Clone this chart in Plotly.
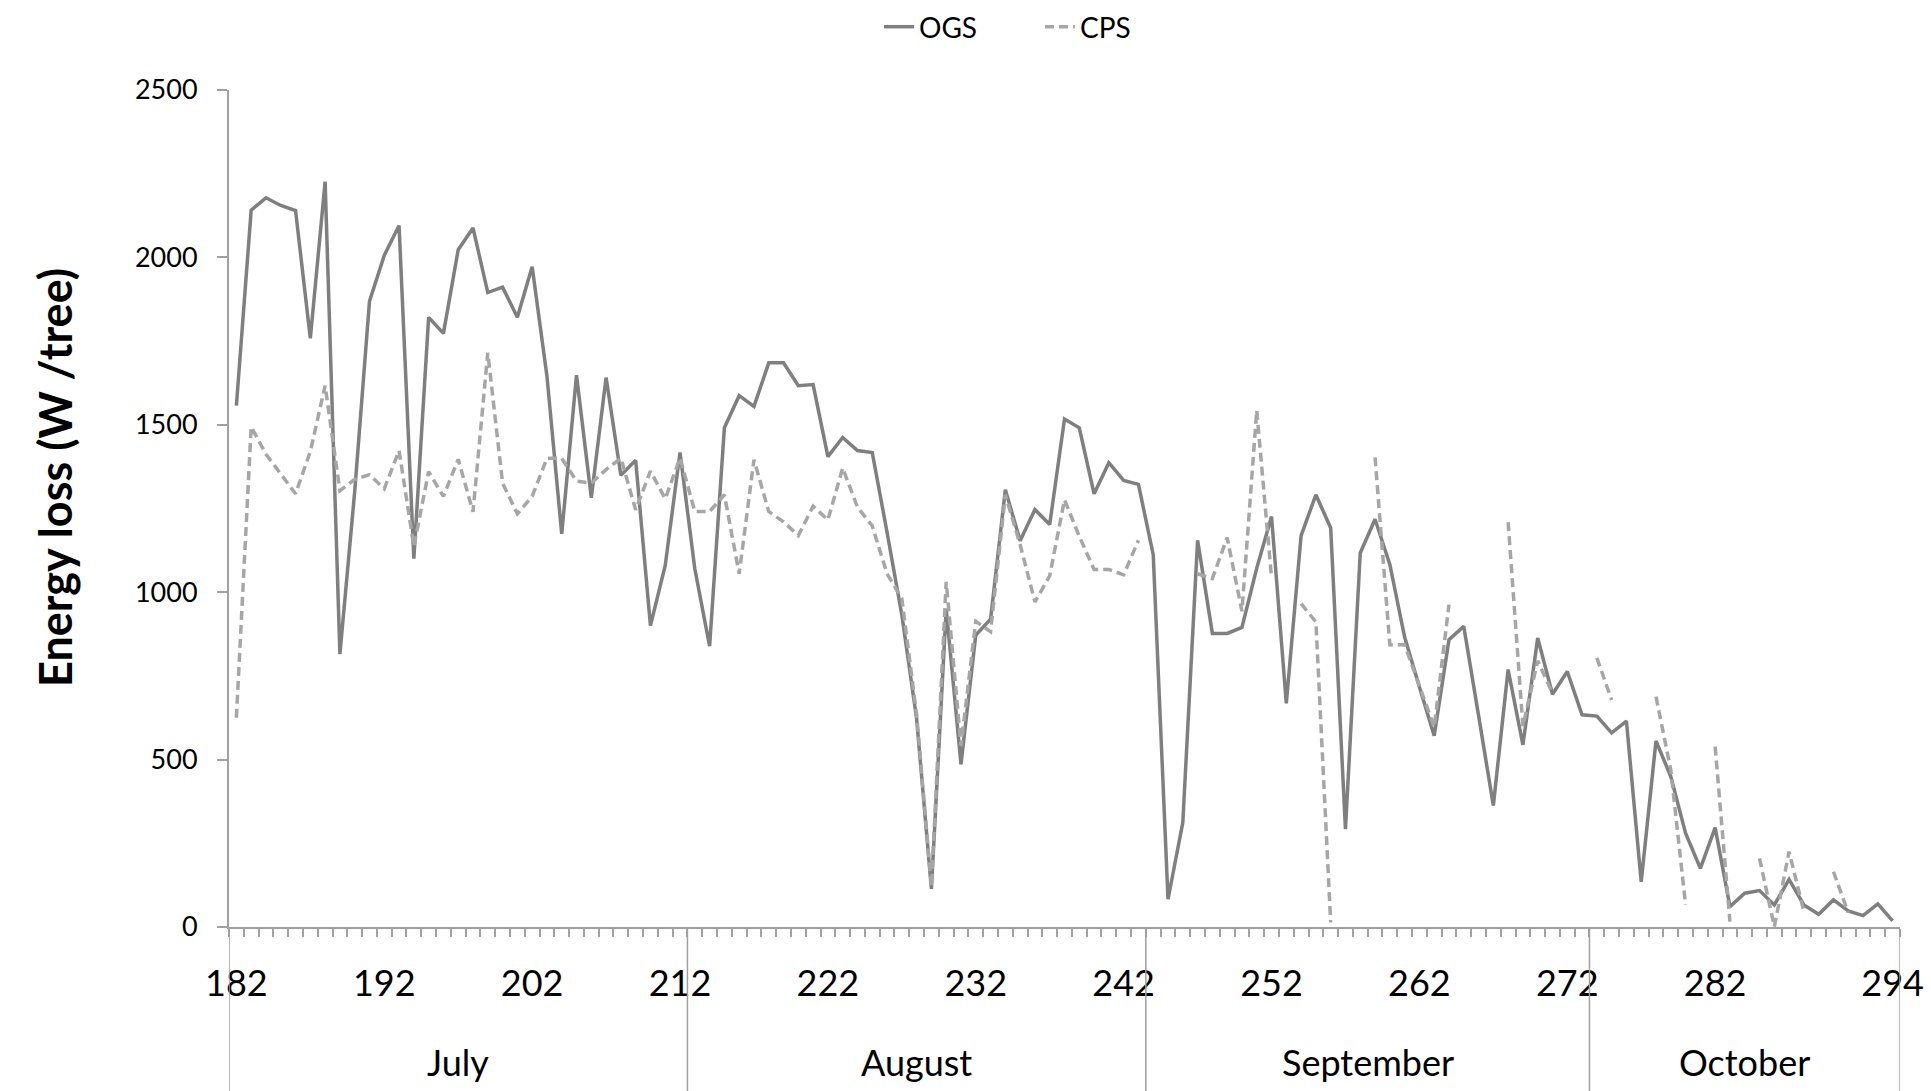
import plotly.graph_objects as go

days = list(range(182, 295))

ogs = [1557, 2141, 2178, 2155, 2140, 1758, 2226, 815, 1300, 1869,
       2006, 2095, 1100, 1821, 1773, 2023, 2088, 1895, 1911, 1821,
       1972, 1646, 1174, 1648, 1282, 1641, 1349, 1394, 900, 1080,
       1417, 1070, 839, 1491, 1587, 1555, 1685, 1685, 1617, 1620,
       1405, 1462, 1423, 1417, 1179, 932, 622, 114, 950, 486,
       872, 919, 1306, 1154, 1247, 1202, 1517, 1491, 1294, 1387,
       1334, 1322, 1112, 83, 312, 1155, 877, 877, 895, 1072,
       1226, 668, 1169, 1291, 1192, 292, 1117, 1218, 1083, 866,
       717, 571, 858, 898, 632, 363, 769, 544, 863, 695,
       763, 634, 630, 580, 615, 135, 556, 449, 280, 175,
       297, 61, 101, 109, 66, 142, 66, 38, 81, 48,
       34, 69, 18]

cps = [625, 1494, 1412, 1354, 1294, 1420, 1617, 1303, 1337, 1351,
       1309, 1423, 1137, 1360, 1286, 1397, 1240, 1715, 1326, 1234,
       1286, 1400, 1400, 1332, 1326, 1366, 1400, 1246, 1362, 1279,
       1401, 1241, 1241, 1291, 1055, 1396, 1241, 1210, 1169, 1257,
       1216, 1371, 1254, 1198, 1055, 981, 634, 121, 1031, 542,
       913, 882, 1291, 1142, 971, 1049, 1276, 1167, 1068, 1068,
       1052, 1155, None, None, None, 1055, 1041, 1163, 943, 1543,
       1043, None, 966, 911, 14, None, None, 1403, 843, 843,
       717, 597, 963, None, None, None, 1209, 600, 795, 698,
       None, None, 804, 678, None, None, 688, 469, 66, None,
       539, 16, None, 205, 1, 225, 46, None, 165, 43,
       None, None, None]

tick_days = [182, 192, 202, 212, 222, 232, 242, 252, 262, 272, 282, 294]
months = ["July", "August", "September", "October"]
month_first = [182, 213, 244, 274]
month_last = [212, 243, 273, 294]

W, H = 1931, 1091
L, R, T, B = 229, 31, 90, 164
plot_h = H - T - B
plot_w = W - L - R

fig = go.Figure()
fig.add_trace(go.Scatter(x=days, y=ogs, name="OGS", mode="lines",
                         line=dict(color="#7f7f7f", width=3.5)))
fig.add_trace(go.Scatter(x=days, y=cps, name="CPS", mode="lines",
                         connectgaps=False,
                         line=dict(color="#a6a6a6", width=3.5, dash="9px,5px")))

axis_col = "#a0a0a0"
bottom = -(B) / plot_h

shapes = []
bounds = [month_first[0] - 0.5] + [d + 0.5 for d in month_last]
for b in bounds:
    shapes.append(dict(type="line", xref="x", yref="paper", x0=b, x1=b,
                       y0=0, y1=bottom, line=dict(color=axis_col, width=1.5)))

annotations = []
for m, a, z in zip(months, month_first, month_last):
    annotations.append(dict(text=m, xref="x", yref="paper", x=(a + z) / 2,
                            y=(927 - 1062) / plot_h, showarrow=False,
                            xanchor="center", yanchor="middle",
                            font=dict(family="Lato", size=36, color="black")))
annotations.append(dict(text="<b>Energy loss (W /tree)</b>", textangle=-90,
                        xref="paper", yref="paper",
                        x=(55 - L) / plot_w, y=(927 - 478) / plot_h,
                        xanchor="center", yanchor="middle", showarrow=False,
                        font=dict(family="Lato", size=45, color="black")))

fig.update_layout(
    width=W, height=H, autosize=False,
    margin=dict(l=L, r=R, t=T, b=B, pad=0, autoexpand=False),
    paper_bgcolor="white", plot_bgcolor="white",
    font=dict(family="Lato", color="black"),
    showlegend=True,
    legend=dict(orientation="h", x=(879 - L) / plot_w, xanchor="left",
                y=(927 - 27) / plot_h, yanchor="middle",
                font=dict(family="Lato", size=28, color="black"),
                entrywidth=116, entrywidthmode="pixels",
                itemwidth=30, bgcolor="rgba(0,0,0,0)"),
    shapes=shapes,
    annotations=annotations,
)

fig.update_xaxes(
    range=[181.5, 294.5], tickmode="array", tickvals=tick_days,
    ticktext=[str(d) for d in tick_days],
    ticks="outside", ticklen=24, tickcolor="rgba(0,0,0,0)",
    tickfont=dict(family="Lato", size=36, color="black"),
    showline=True, linecolor=axis_col, linewidth=2,
    showgrid=False, zeroline=False,
    minor=dict(tickmode="linear", tick0=181.5, dtick=1, ticks="outside",
               ticklen=8, tickwidth=1.5, tickcolor=axis_col, showgrid=False),
)
fig.update_yaxes(
    range=[0, 2500], tickmode="array", tickvals=[0, 500, 1000, 1500, 2000, 2500],
    ticks="outside", ticklen=10, tickwidth=1.5, tickcolor=axis_col,
    tickfont=dict(family="Lato", size=27, color="black"),
    ticklabelstandoff=14,
    showline=True, linecolor=axis_col, linewidth=2,
    showgrid=False, zeroline=False,
)

fig.write_html("out.html", config={"displayModeBar": False},
               post_script="document.body.style.margin='0';")
